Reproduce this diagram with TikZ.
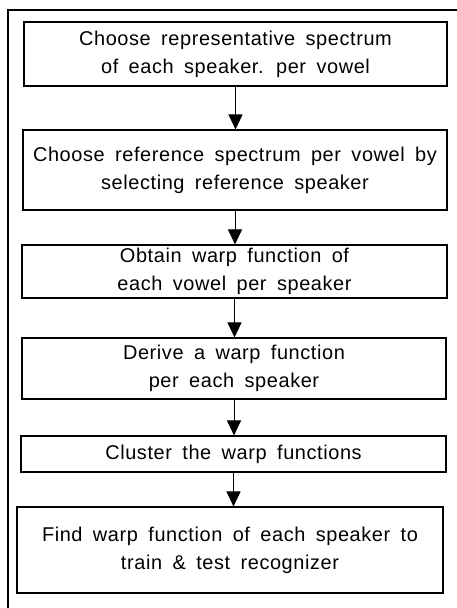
\documentclass[tikz,border=0pt]{standalone}
\usepackage{fontspec}
\setmainfont{Liberation Sans}[LetterSpace=3, WordSpace=1.7]
\usetikzlibrary{arrows.meta}

\tikzset{
    stepbox/.style={rectangle, draw, line width=1.1bp, inner sep=0pt, align=center,
        font=\fontsize{20}{28}\selectfont},
    flow/.style={line width=1bp, -{Triangle[width=14bp, length=15bp]}}
}

\begin{document}
\begin{tikzpicture}[x=1bp, y=-1bp]
    \useasboundingbox (0, 0) rectangle (457, 608);
    \draw [line width=2bp] (8, 608) -- (8, 10) -- (457, 10);
    \node [stepbox, minimum width=423bp, minimum height=64bp] (rep) at (235.5, 54) {Choose representative spectrum\\of each speaker. per vowel};
    \node [stepbox, minimum width=424bp, minimum height=80bp] (ref) at (235, 170) {Choose reference spectrum per vowel by\\selecting reference speaker};
    \node [stepbox, minimum width=425bp, minimum height=53bp] (obt) at (234.5, 271.5) {Obtain warp function of\\each vowel per speaker};
    \node [stepbox, minimum width=424bp, minimum height=61bp] (der) at (234, 368.5) {Derive a warp function\\per each speaker};
    \node [stepbox, minimum width=425bp, minimum height=36bp] (clu) at (233.5, 454) {Cluster the warp functions};
    \node [stepbox, minimum width=426bp, minimum height=86bp] (fnd) at (230, 550) {Find warp function of each speaker to\\train \& test recognizer};
    \draw [flow] (rep.south) -- (rep.south |- ref.north);
    \draw [flow] (ref.south) -- (ref.south |- obt.north);
    \draw [flow] (obt.south) -- (obt.south |- der.north);
    \draw [flow] (der.south) -- (der.south |- clu.north);
    \draw [flow] (clu.south) -- (clu.south |- fnd.north);
\end{tikzpicture}
\end{document}
